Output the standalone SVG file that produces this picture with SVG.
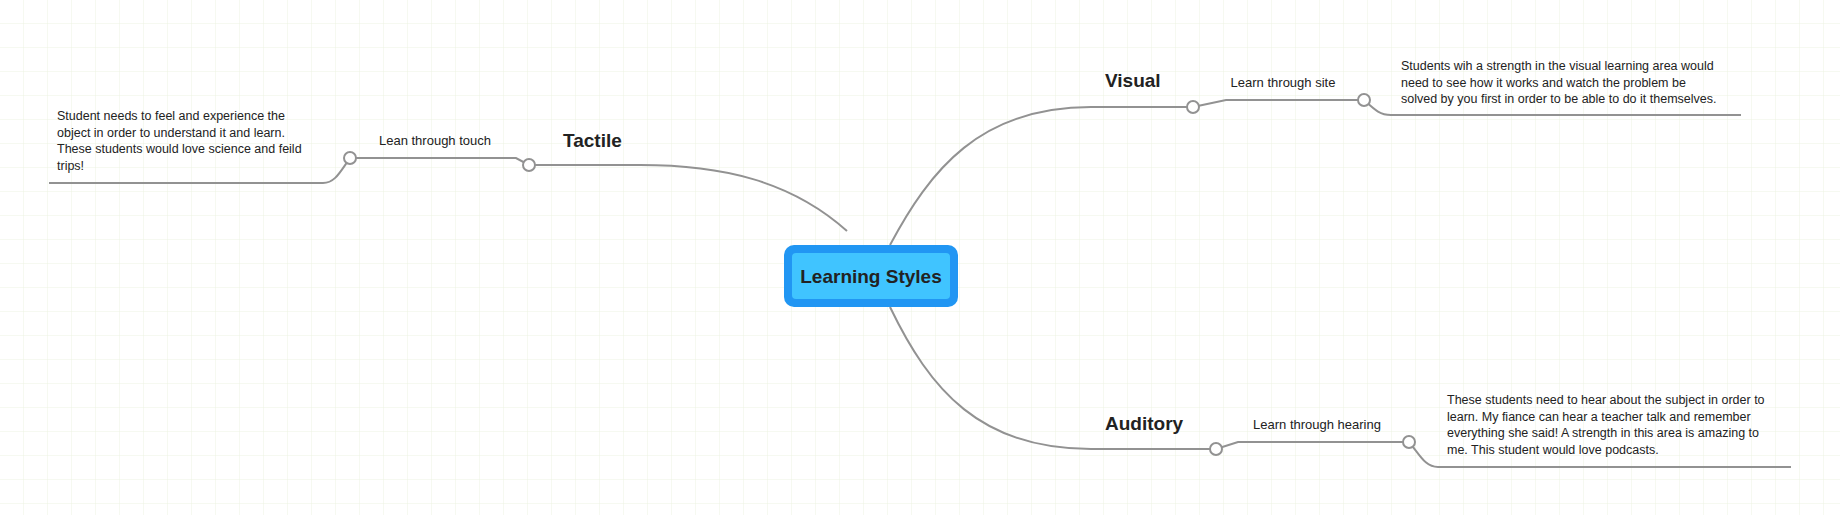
<svg xmlns="http://www.w3.org/2000/svg" width="1840" height="515" viewBox="0 0 1840 515">
<defs>
<pattern id="grid" width="24" height="24" patternUnits="userSpaceOnUse">
<path d="M24 0V24M0 24H24" fill="none" stroke="#edf3e2" stroke-width="1"/>
</pattern>
<style>
.c{fill:none;stroke:#929292;stroke-width:2}
.k{fill:#fff;stroke:#929292;stroke-width:2}
.t{font-family:"Liberation Sans",Arial,sans-serif;fill:#222}
.b{font-size:19px;font-weight:bold}
.s{font-size:13px}
.n{font-size:12.5px}
</style>
</defs>
<rect width="1840" height="515" fill="#fff"/>
<rect width="1840" height="515" fill="url(#grid)"/>
<g id="connectors">
<path class="c" d="M847 231 C790 180 720 165 640 165 H529"/>
<path class="c" d="M529 165 L516 158 H350"/>
<path class="c" d="M350 158 C340 172 335 183 323 183 H49"/>
<path class="c" d="M890 245 C930 170 980 107 1091 107 H1193"/>
<path class="c" d="M1193 107 L1226 100 H1364"/>
<path class="c" d="M1364 100 C1375 110 1380 115 1391 115 H1741"/>
<path class="c" d="M890 307 C930 390 980 449 1091 449 H1216"/>
<path class="c" d="M1216 449 L1238 442 H1409"/>
<path class="c" d="M1409 442 C1420 455 1425 467 1438 467 H1791"/>
<circle class="k" cx="529" cy="165" r="6"/>
<circle class="k" cx="350" cy="158" r="6"/>
<circle class="k" cx="1193" cy="107" r="6"/>
<circle class="k" cx="1364" cy="100" r="6"/>
<circle class="k" cx="1216" cy="449" r="6"/>
<circle class="k" cx="1409" cy="442" r="6"/>
</g>
<g id="center">
<rect x="784" y="245" width="174" height="62" rx="10" fill="#2196f3"/>
<rect x="792" y="253" width="158" height="46" rx="4" fill="#40c4ff"/>
<text class="t" x="871" y="283" text-anchor="middle" font-size="19" font-weight="bold" fill="#111">Learning Styles</text>
</g>
<g id="tactile">
<text class="t b" x="563" y="147">Tactile</text>
</g>
<g id="tactile-label"><text class="t s" x="435" y="145" text-anchor="middle">Lean through touch</text></g>
<g id="tactile-note"><text class="t n"><tspan x="57" y="120">Student needs to feel and experience the</tspan><tspan x="57" y="137">object in order to understand it and learn.</tspan><tspan x="57" y="153">These students would love science and feild</tspan><tspan x="57" y="170">trips!</tspan></text></g>
<g id="visual"><text class="t b" x="1105" y="87">Visual</text></g>
<g id="visual-label"><text class="t s" x="1283" y="87" text-anchor="middle">Learn through site</text></g>
<g id="visual-note"><text class="t n"><tspan x="1401" y="70">Students wih a strength in the visual learning area would</tspan><tspan x="1401" y="87">need to see how it works and watch the problem be</tspan><tspan x="1401" y="103">solved by you first in order to be able to do it themselves.</tspan></text></g>
<g id="auditory"><text class="t b" x="1105" y="430">Auditory</text></g>
<g id="auditory-label"><text class="t s" x="1317" y="429" text-anchor="middle">Learn through hearing</text></g>
<g id="auditory-note"><text class="t n"><tspan x="1447" y="404">These students need to hear about the subject in order to</tspan><tspan x="1447" y="421">learn. My fiance can hear a teacher talk and remember</tspan><tspan x="1447" y="437">everything she said! A strength in this area is amazing to</tspan><tspan x="1447" y="454">me. This student would love podcasts.</tspan></text></g>
</svg>
